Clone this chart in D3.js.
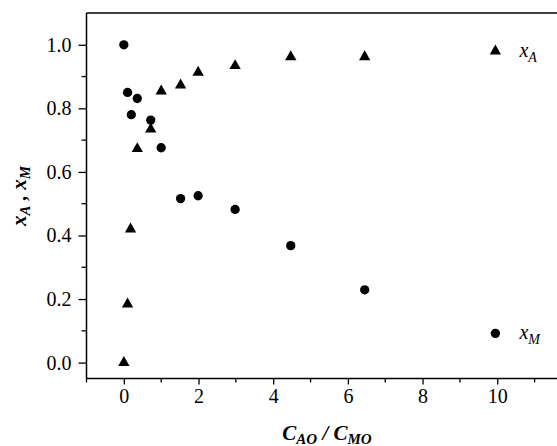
<!DOCTYPE html>
<html>
<head>
<meta charset="utf-8">
<script src="https://cdn.jsdelivr.net/npm/d3@7"></script>
<style>
  body { margin: 0; background: #fff; }
</style>
</head>
<body>
<svg id="chart" width="557" height="446" style="font-family:'Liberation Serif'"></svg>
<script>
// molar ratio C_Ao / C_Mo
const ratioA = [0, 0.1, 0.18, 0.36, 0.72, 1.0, 1.52, 1.99, 2.98, 4.47, 6.45];
const xA = [0.0, 0.184, 0.42, 0.673, 0.734, 0.854, 0.873, 0.913, 0.934, 0.962, 0.962];
const ratioM = [0, 0.1, 0.2, 0.36, 0.72, 1.0, 1.52, 1.99, 2.98, 4.47, 6.45];
const xM = [1.0, 0.85, 0.78, 0.831, 0.763, 0.676, 0.516, 0.525, 0.482, 0.368, 0.229];

const xTicks = [0, 2, 4, 6, 8, 10];
const xMinor = [-1, 1, 3, 5, 7, 9, 11];
const yTicks = [0.0, 0.2, 0.4, 0.6, 0.8, 1.0];
const yMinor = [0.1, 0.3, 0.5, 0.7, 0.9];

// legend entries
const legend = [
  { x: 9.95, y: 0.98, sub: "A", sym: d3.symbolTriangle },
  { x: 9.95, y: 0.092, sub: "M", sym: d3.symbolCircle }
];

const serif = "'Liberation Serif'";
const svg = d3.select("#chart");
const x = d3.scaleLinear().domain([-1, 11.6]).range([86.5, 557]);
const y = d3.scaleLinear().domain([-0.05, 1.1]).range([378.5, 13]);

const tri = d3.symbol().type(d3.symbolTriangle).size(56);
const dot = d3.symbol().type(d3.symbolCircle).size(68);

// frame: top line
svg.append("line")
  .attr("x1", x(-1)).attr("x2", 557)
  .attr("y1", y(1.1)).attr("y2", y(1.1))
  .attr("stroke", "#000").attr("stroke-width", 1.5);

// x axis
const xAxis = svg.append("g")
  .attr("transform", `translate(0,${y(-0.05)})`)
  .call(d3.axisBottom(x).tickValues(xTicks).tickFormat(d3.format("d")).tickSize(6).tickPadding(4));
xAxis.attr("font-family", serif).attr("font-size", 20);
xAxis.select(".domain").attr("d", `M${x(-1)},0H557`).attr("stroke-width", 1.5);
xAxis.selectAll(".tick line").attr("stroke-width", 1.3);
xAxis.selectAll(".minor").data(xMinor).join("line")
  .attr("class", "minor")
  .attr("x1", d => x(d)).attr("x2", d => x(d))
  .attr("y1", 0).attr("y2", 4)
  .attr("stroke", "#000").attr("stroke-width", 1.3);

// y axis
const yAxis = svg.append("g")
  .attr("transform", `translate(${x(-1)},0)`)
  .call(d3.axisLeft(y).tickValues(yTicks).tickFormat(d3.format(".1f")).tickSize(8).tickPadding(7));
yAxis.attr("font-family", serif).attr("font-size", 20);
yAxis.select(".domain").attr("d", `M0,${y(-0.05)}V${y(1.1)}`).attr("stroke-width", 1.5);
yAxis.selectAll(".tick line").attr("stroke-width", 1.3);
yAxis.selectAll(".minor").data(yMinor).join("line")
  .attr("class", "minor")
  .attr("y1", d => y(d)).attr("y2", d => y(d))
  .attr("x1", 0).attr("x2", -5)
  .attr("stroke", "#000").attr("stroke-width", 1.3);

// data points
svg.append("g").selectAll("path")
  .data(d3.zip(ratioA, xA)).join("path")
  .attr("transform", d => `translate(${x(d[0])},${y(d[1])})`)
  .attr("d", tri).attr("fill", "#000");

svg.append("g").selectAll("path")
  .data(d3.zip(ratioM, xM)).join("path")
  .attr("transform", d => `translate(${x(d[0])},${y(d[1])})`)
  .attr("d", dot).attr("fill", "#000");

// legend
legend.forEach(l => {
  svg.append("path")
    .attr("transform", `translate(${x(l.x)},${y(l.y)})`)
    .attr("d", l.sym === d3.symbolTriangle ? tri() : dot())
    .attr("fill", "#000");
  const t = svg.append("text")
    .attr("x", x(l.x) + 24)
    .attr("y", y(l.y) + 6)
    .attr("font-family", serif)
    .attr("font-size", 20)
    .attr("font-style", "italic");
  t.append("tspan").text("x");
  t.append("tspan").attr("font-size", 14).attr("dy", 5).text(l.sub);
});

// axis titles
const xt = svg.append("text")
  .attr("x", 327).attr("y", 440)
  .attr("text-anchor", "middle")
  .attr("font-family", serif)
  .attr("font-size", 21)
  .attr("font-weight", "bold")
  .attr("font-style", "italic");
xt.append("tspan").text("C");
xt.append("tspan").attr("font-size", 15).attr("dy", 4).text("AO");
xt.append("tspan").attr("dy", -4).text(" / C");
xt.append("tspan").attr("font-size", 15).attr("dy", 4).text("MO");

const yt = svg.append("text")
  .attr("transform", "translate(26,196) rotate(-90)")
  .attr("text-anchor", "middle")
  .attr("font-family", serif)
  .attr("font-size", 21)
  .attr("font-weight", "bold")
  .attr("font-style", "italic");
yt.append("tspan").text("x");
yt.append("tspan").attr("font-size", 15).attr("dy", 4).text("A");
yt.append("tspan").attr("dy", -4).text(" , x");
yt.append("tspan").attr("font-size", 15).attr("dy", 4).text("M");
</script>
</body>
</html>
